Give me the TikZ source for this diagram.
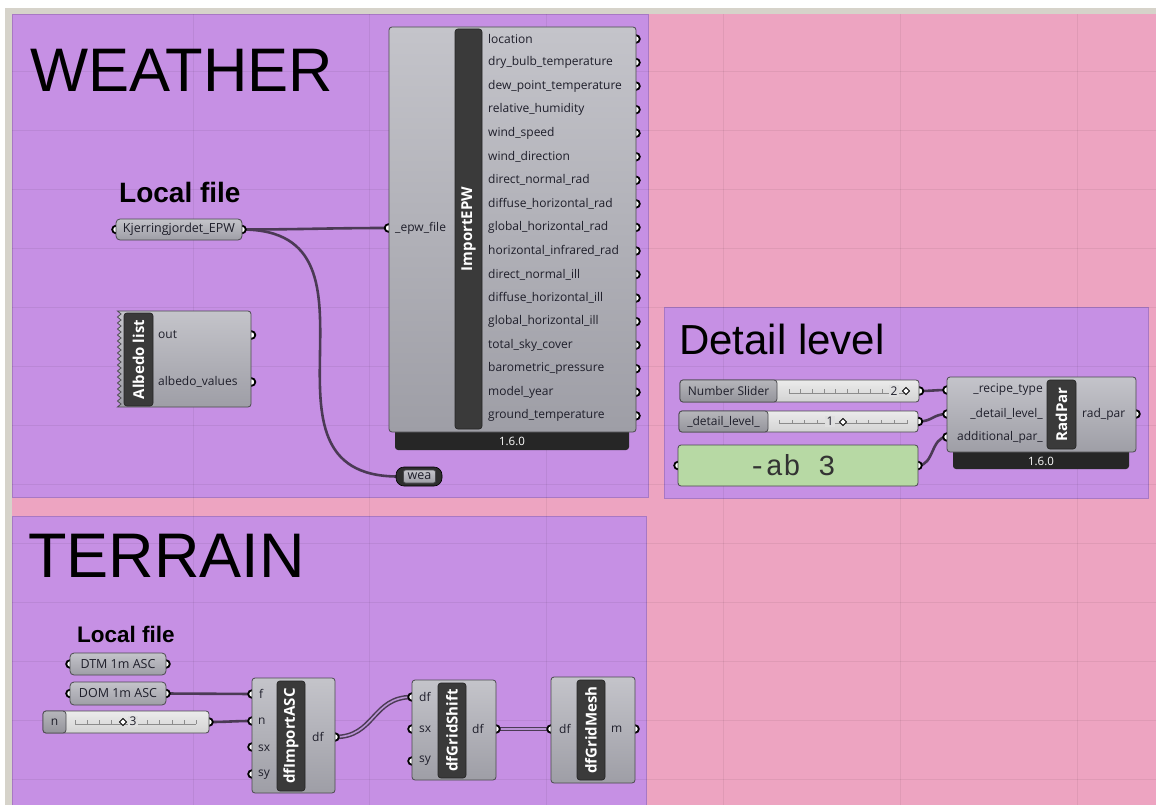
\documentclass[tikz,border=0pt]{standalone}
\usepackage{fontspec}
\setmainfont{Open Sans}
\newfontfamily\headfont{Liberation Sans}
\newfontfamily\codefont{Liberation Mono}

\definecolor{canvas}{HTML}{EDA4C1}
\definecolor{canvasedge}{HTML}{D6D3CA}
\definecolor{grp}{HTML}{C690E4}
\definecolor{grpedge}{HTML}{A878C4}
\definecolor{wirecol}{HTML}{4B3A55}
\definecolor{wirein}{HTML}{B992D4}
\definecolor{bodytop}{HTML}{C4C4CA}
\definecolor{bodybot}{HTML}{9E9EA6}
\definecolor{compedge}{HTML}{4A4A4E}
\definecolor{barfill}{HTML}{3A3A3A}
\definecolor{footfill}{HTML}{262626}
\definecolor{tracktop}{HTML}{EBEBEB}
\definecolor{trackbot}{HTML}{D3D3D3}
\definecolor{slabtop}{HTML}{B6B6BB}
\definecolor{slabbot}{HTML}{94949B}
\definecolor{panelgreen}{HTML}{B7D9A4}
\definecolor{textdark}{HTML}{1E1E2A}

\tikzset{
  group/.style={fill=grp, draw=grpedge, line width=0.8pt},
  gridline/.style={draw=black, opacity=0.06, line width=0.8pt},
  comp/.style={draw=compedge, line width=0.8pt, rounded corners=3pt,
    top color=bodytop, bottom color=bodybot, inner sep=0pt, outer sep=0pt},
  compplain/.style={draw=compedge, line width=0.8pt,
    top color=bodytop, bottom color=bodybot},
  nickbar/.style={draw=black!85, line width=0.7pt, rounded corners=3pt,
    fill=barfill, inner sep=0pt},
  nick/.style={text=white, font=\fontsize{15}{15}\selectfont\bfseries,
    rotate=90, inner sep=0pt},
  foot/.style={fill=footfill, rounded corners=3pt, inner sep=0pt},
  foottext/.style={text=white, font=\fontsize{11.5}{12}\selectfont, inner sep=0pt},
  lbl/.style={text=textdark, font=\fontsize{12}{14}\selectfont, inner sep=0pt},
  plbl/.style={text=textdark, font=\fontsize{12.5}{14}\selectfont, inner sep=0pt},
  grip/.style={draw=black, line width=1.8pt, fill=white},
  wire/.style={draw=wirecol, line width=2.6pt},
  dwire/.style={draw=wirecol, line width=1.5pt, double=wirein, double distance=1.6pt},
  param/.style={draw=compedge, line width=0.8pt, rounded corners=4pt,
    top color=bodytop, bottom color=bodybot, inner sep=0pt},
  track/.style={draw=compedge, line width=0.8pt, rounded corners=3pt,
    top color=tracktop, bottom color=trackbot, inner sep=0pt},
  slab/.style={draw=compedge, line width=0.8pt, rounded corners=3pt,
    top color=slabtop, bottom color=slabbot, inner sep=0pt},
  tickst/.style={draw=black!45, line width=0.6pt},
  knob/.style={draw=black, fill=white, line width=0.9pt, minimum size=5pt,
    inner sep=0pt, rotate=45},
  head/.style={text=black, inner sep=0pt, anchor=base west},
}

\begin{document}
\begin{tikzpicture}[x=1pt,y=-1pt]
\useasboundingbox (0,0) rectangle (1156,805);

% canvas
\fill[white] (0,0) rectangle (1156,805);
\fill[canvasedge] (5,8) rectangle (1156,14);
\fill[canvasedge] (5,8) rectangle (12,805);
\fill[canvas] (12,14) rectangle (1156,805);

% groups
\draw[group] (12,14) rectangle (648,497);
\draw[group] (664,307) rectangle (1148,498);
\draw[group] (12,516) rectangle (646,815);

% canvas grid
\foreach \gx in {193,369.5,546,723,900,1077}
  \draw[gridline] (\gx,14) -- (\gx,805);
\foreach \k in {0,...,12}
  \draw[gridline] (12,{71+59.05*\k}) -- (1156,{71+59.05*\k});

% group titles
\node[head, font=\headfont\fontsize{61.5}{62}\selectfont] (t-weather) at (30,92) {WEATHER};
\node[head, font=\headfont\fontsize{63}{63}\selectfont] (t-terrain) at (28,577) {TERRAIN};
\node[head, font=\headfont\fontsize{42}{42}\selectfont] (t-detail) at (679,354) {Detail level};
\node[head, font=\headfont\bfseries\fontsize{28}{28}\selectfont] (t-local1) at (119,203) {Local file};
\node[head, font=\headfont\bfseries\fontsize{22.5}{22}\selectfont] (t-local2) at (77,642) {Local file};

% grip positions
\coordinate (kj-in) at (116,229.5);
\coordinate (kj-out) at (242,229.5);
\coordinate (epw-in) at (388.5,228);
\foreach \i in {0,...,16} \coordinate (epw-o\i) at (636,{39+23.55*\i});
\coordinate (wea-in) at (398,476.5);
\coordinate (alb-o1) at (251.5,335);
\coordinate (alb-o2) at (251.5,382);
\coordinate (ns-out) at (919.5,391);
\coordinate (dl-out) at (918.5,421.5);
\coordinate (pn-in) at (678,465.5);
\coordinate (pn-out) at (918,465.5);
\coordinate (rp-i1) at (947,390);
\coordinate (rp-i2) at (947,414);
\coordinate (rp-i3) at (947,437);
\coordinate (rp-o) at (1136,414);
\coordinate (dtm-in) at (70,664);
\coordinate (dtm-out) at (166,664);
\coordinate (dom-in) at (70,693.5);
\coordinate (dom-out) at (166,693.5);
\coordinate (n-out) at (209,722);
\coordinate (ia-f) at (252,694);
\coordinate (ia-n) at (252,721);
\coordinate (ia-sx) at (252,747);
\coordinate (ia-sy) at (252,774);
\coordinate (ia-o) at (335,737);
\coordinate (gs-df) at (412,697);
\coordinate (gs-sx) at (412,729);
\coordinate (gs-sy) at (412,761);
\coordinate (gs-o) at (496,729);
\coordinate (gm-df) at (551,729);
\coordinate (gm-o) at (635,729);

% wires
\draw[wire] (kj-out) .. controls +(60,0) and +(-60,0) .. (epw-in);
\draw[wire] (kj-out) .. controls +(160,0) and +(-160,0) .. (wea-in);
\draw[wire] (ns-out) .. controls +(12,0) and +(-12,0) .. (rp-i1);
\draw[wire] (dl-out) .. controls +(14,0) and +(-14,0) .. (rp-i2);
\draw[wire] (pn-out) .. controls +(16,0) and +(-16,0) .. (rp-i3);
\draw[wire] (dom-out) -- (ia-f);
\draw[wire] (n-out) .. controls +(20,0) and +(-20,0) .. (ia-n);
\draw[dwire] (ia-o) .. controls +(40,0) and +(-40,0) .. (gs-df);
\draw[dwire] (gs-o) -- (gm-df);

% grips
\foreach \g in {kj-in,kj-out,epw-in,alb-o1,alb-o2,ns-out,dl-out,pn-in,pn-out,
  rp-i1,rp-i2,rp-i3,rp-o,dtm-in,dtm-out,dom-in,dom-out,n-out,
  ia-f,ia-n,ia-sx,ia-sy,ia-o,gs-df,gs-sx,gs-sy,gs-o,gm-df,gm-o}
  \draw[grip] (\g) circle[radius=3.8pt];
\foreach \i in {0,...,16} \draw[grip] (epw-o\i) circle[radius=3.8pt];

% ---------- WEATHER ----------
\node[param, minimum width=126pt, minimum height=21pt] (kj) at (179,229.5) {};
\node[plbl] at (kj) {Kjerringjordet\_EPW};

\node[foot, minimum width=234pt, minimum height=26pt] (epw-foot) at (512,437) {};
\node[foottext] at (512,441.5) {1.6.0};
\node[comp, minimum width=247pt, minimum height=405pt] (epw) at (512.5,229.5) {};
\node[nickbar, minimum width=27pt, minimum height=400pt] (epw-bar) at (468.5,229) {};
\node[nick] at (epw-bar) {ImportEPW};
\node[lbl, anchor=west] at (395,228) {\_epw\_file};
\foreach \t [count=\i from 0] in {location, dry\_bulb\_temperature,
  dew\_point\_temperature, relative\_humidity, wind\_speed, wind\_direction,
  direct\_normal\_rad, diffuse\_horizontal\_rad, global\_horizontal\_rad,
  horizontal\_infrared\_rad, direct\_normal\_ill, diffuse\_horizontal\_ill,
  global\_horizontal\_ill, total\_sky\_cover, barometric\_pressure,
  model\_year, ground\_temperature}
  \node[lbl, anchor=west] at (488,{39+23.55*\i}) {\t};

% weather output parameter
\node[fill=black!82, draw=black, line width=0.6pt, rounded corners=8pt,
  minimum width=46pt, minimum height=19pt, inner sep=0pt] (wea) at (419,476.5) {};
\node[param, rounded corners=2pt, minimum width=32pt, minimum height=13pt] (wea-in-box) at (419.5,476.5) {};
\node[plbl] at (wea-in-box) {wea};

% albedo list
\draw[compplain] (117.5,311) [rounded corners=3pt] -- (251,311) -- (251,407)
  [sharp corners] -- (117.5,407)
  \foreach \k in {1,...,16} { -- (121,{407-6*\k+3}) -- (117.5,{407-6*\k}) } -- cycle;
\node[nickbar, minimum width=29pt, minimum height=93pt] (alb-bar) at (138.5,359.5) {};
\node[nick] at (alb-bar) {Albedo list};
\node[lbl, anchor=west] at (158,335) {out};
\node[lbl, anchor=west] at (158,382) {albedo\_values};

% ---------- DETAIL LEVEL ----------
% number slider
\node[track, minimum width=239pt, minimum height=22pt] (ns) at (799.5,391) {};
\node[slab, minimum width=97pt, minimum height=22pt] (ns-lab) at (728.5,391) {};
\node[lbl] at (ns-lab) {Number Slider};
\draw[tickst] (789,393) -- (905,393);
\foreach \k in {0,...,10} \draw[tickst] ({789+11.6*\k},393) -- ++(0,-4);
\node[lbl, fill=trackbot!50!tracktop, inner sep=1.5pt] at (894,391) {2};
\node[knob] at (906,391) {};

% detail level slider
\node[track, minimum width=239pt, minimum height=21pt] (dl) at (798.5,421.5) {};
\node[slab, minimum width=89pt, minimum height=21pt] (dl-lab) at (723.5,421.5) {};
\node[lbl] at (dl-lab) {\_detail\_level\_};
\draw[tickst] (779,423.5) -- (907,423.5);
\foreach \k in {0,...,10} \draw[tickst] ({779+12.8*\k},423.5) -- ++(0,-4);
\node[lbl, fill=trackbot!50!tracktop, inner sep=1.5pt] at (830,421.5) {1};
\node[knob, fill=white] at (843,422) {};

% panel
\node[draw=compedge, line width=0.8pt, rounded corners=3pt, fill=panelgreen,
  minimum width=240pt, minimum height=41pt, inner sep=0pt] (pn) at (798,465.5) {};
\node[text=black!80, font=\codefont\fontsize{29}{29}\selectfont, inner sep=0pt] at (792,465) {-ab 3};

% RadPar
\node[foot, minimum width=176pt, minimum height=24pt] (rp-foot) at (1041,457) {};
\node[foottext] at (1041,461) {1.6.0};
\node[comp, minimum width=189pt, minimum height=75pt] (rp) at (1041.5,414.5) {};
\node[nickbar, minimum width=29pt, minimum height=69pt] (rp-bar) at (1061.5,414.5) {};
\node[nick] at (rp-bar) {RadPar};
\node[lbl, anchor=east] at (1043,390) {\_recipe\_type};
\node[lbl, anchor=east] at (1043,414) {\_detail\_level\_};
\node[lbl, anchor=east] at (1043,437) {additional\_par\_};
\node[lbl, anchor=west] at (1082,414) {rad\_par};

% ---------- TERRAIN ----------
\node[param, minimum width=96pt, minimum height=22pt] (dtm) at (118,664) {};
\node[plbl] at (dtm) {DTM 1m ASC};
\node[param, minimum width=96pt, minimum height=23pt] (dom) at (118,693.5) {};
\node[plbl] at (dom) {DOM 1m ASC};

% n slider
\node[track, minimum width=166pt, minimum height=22pt] (ns2) at (126,722) {};
\node[slab, minimum width=23pt, minimum height=22pt] (ns2-lab) at (54.5,722) {};
\node[lbl] at (ns2-lab) {n};
\draw[tickst] (75,724) -- (196,724);
\foreach \k in {0,...,10} \draw[tickst] ({75+12.1*\k},724) -- ++(0,-4);
\node[lbl, fill=trackbot!50!tracktop, inner sep=1.5pt] at (133,721.5) {3};
\node[knob] at (123,722) {};

% dfImportASC
\node[comp, minimum width=83pt, minimum height=115pt] (ia) at (293.5,735.5) {};
\node[nickbar, minimum width=28pt, minimum height=110pt] (ia-bar) at (291,736) {};
\node[nick] at (ia-bar) {dfImportASC};
\node[lbl, anchor=west] at (259,694) {f};
\node[lbl, anchor=west] at (258,721) {n};
\node[lbl, anchor=west] at (258,748) {sx};
\node[lbl, anchor=west] at (258,775) {sy};
\node[lbl, anchor=west] at (312,737) {df};

% dfGridShift
\node[comp, minimum width=84pt, minimum height=100pt] (gs) at (454,730) {};
\node[nickbar, minimum width=28pt, minimum height=95pt] (gs-bar) at (452,730.5) {};
\node[nick] at (gs-bar) {dfGridShift};
\node[lbl, anchor=west] at (419,697) {df};
\node[lbl, anchor=west] at (419,729) {sx};
\node[lbl, anchor=west] at (419,761) {sy};
\node[lbl, anchor=west] at (472,729) {df};

% dfGridMesh
\node[comp, minimum width=84pt, minimum height=106pt] (gm) at (593,730) {};
\node[nickbar, minimum width=28pt, minimum height=100pt] (gm-bar) at (591,730) {};
\node[nick] at (gm-bar) {dfGridMesh};
\node[lbl, anchor=west] at (559,729) {df};
\node[lbl, anchor=west] at (611,729) {m};

\end{tikzpicture}
\end{document}
